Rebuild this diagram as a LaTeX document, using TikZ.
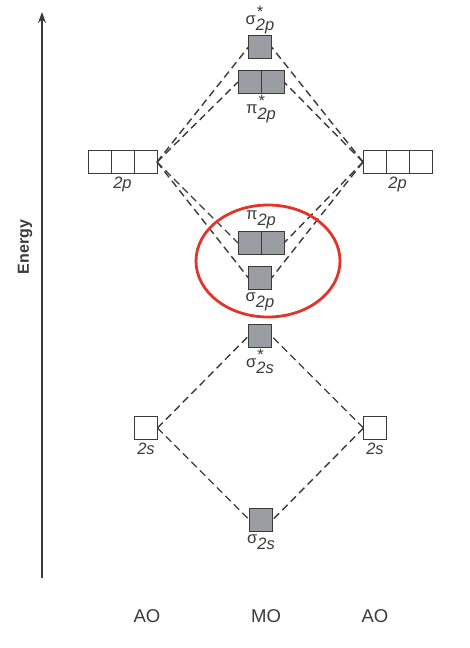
\documentclass[tikz,border=0pt]{standalone}
\usepackage{fontspec}
\setmainfont{Liberation Sans}
\usepackage{tikz}
\usetikzlibrary{arrows.meta,positioning}
\definecolor{ink}{HTML}{3A3A3A}
\definecolor{boxfill}{HTML}{9A9DA2}
\definecolor{ring}{HTML}{E2342B}
\newcommand{\mol}[3]{#1\raisebox{-0.7ex}{\rlap{\raisebox{1.5ex}{\hspace{1pt}#3}}\textit{#2}}}
\tikzset{
  orb/.style={draw=ink, line width=0.9pt, minimum size=23pt, inner sep=0pt, outer sep=0pt},
  fullorb/.style={orb, fill=boxfill},
  emptyorb/.style={orb, fill=white},
  link/.style={draw=ink, line width=1.4pt, dash pattern=on 7.5pt off 4.5pt},
  lab/.style={text=ink, font=\fontsize{16.5}{18}\selectfont, inner sep=1pt},
  col/.style={text=ink, font=\fontsize{18.5}{20}\selectfont},
}

\begin{document}
\begin{tikzpicture}[x=1pt,y=-1pt]
  \useasboundingbox (0,0) rectangle (470,648);

  % energy axis
  \coordinate (axbot) at (42,578);
  \coordinate (axtop) at (42,12);
  \draw[-{Stealth[length=11pt,width=8pt]}, ink, line width=1.3pt] (axbot) -- (axtop);
  \node[rotate=90, text=ink, font=\bfseries\fontsize{16}{18}\selectfont] (energy) at (25,247) {Energy};

  % atomic orbitals
  \foreach \i in {1,2,3} {
    \node[emptyorb] (L2p\i) at ({99.5+23*(\i-1)},162) {};
    \node[emptyorb] (R2p\i) at ({374.5+23*(\i-1)},162) {};
  }
  \node[emptyorb] (L2s) at (146,428) {};
  \node[emptyorb] (R2s) at (375,428) {};

  % molecular orbitals
  \node[fullorb] (sps) at (260,47) {};
  \foreach \i in {1,2} {
    \node[fullorb] (pis\i) at ({249.5+23*(\i-1)},82) {};
    \node[fullorb] (pib\i) at ({249.5+23*(\i-1)},243) {};
  }
  \node[fullorb] (sp) at (260,278) {};
  \node[fullorb] (sss) at (260,336) {};
  \node[fullorb] (ss) at (261,520) {};

  % correlation lines
  \foreach \l/\r in {sps/sps, pis1/pis2, pib1/pib2, sp/sp} {
    \draw[link] (L2p3.east) -- (\l.west);
    \draw[link] (R2p1.west) -- (\r.east);
  }
  \foreach \m in {sss,ss} {
    \draw[link] (L2s.east) -- (\m.west);
    \draw[link] (R2s.west) -- (\m.east);
  }

  % labels
  \node[lab, above=0pt of sps] (sps-l) {\mol{σ}{2p}{*}};
  \node[lab, below=0pt] (pis-l) at (pis1.south east) {\mol{π}{2p}{*}};
  \node[lab, above=1pt] (pib-l) at (pib1.north east) {\mol{π}{2p}{}};
  \node[lab, below=2pt of sp] (sp-l) {\mol{σ}{2p}{}};
  \node[lab, below=0pt of sss] (sss-l) {\mol{σ}{2s}{*}};
  \node[lab, below=2pt of ss] (ss-l) {\mol{σ}{2s}{}};
  \node[lab, below=2pt] (L2p-l) at (L2p2.south) {\textit{2p}};
  \node[lab, below=2pt] (R2p-l) at (R2p2.south) {\textit{2p}};
  \node[lab, below=2pt of L2s] (L2s-l) {\textit{2s}};
  \node[lab, below=2pt of R2s] (R2s-l) {\textit{2s}};

  \node[col] (ao-l) at (147,616) {AO};
  \node[col] (mo-l) at (266,616) {MO};
  \node[col] (ao-r) at (375,616) {AO};

  % highlight
  \draw[ring, line width=2.8pt] (268,261) ellipse [x radius=72pt, y radius=56pt];
\end{tikzpicture}
\end{document}
